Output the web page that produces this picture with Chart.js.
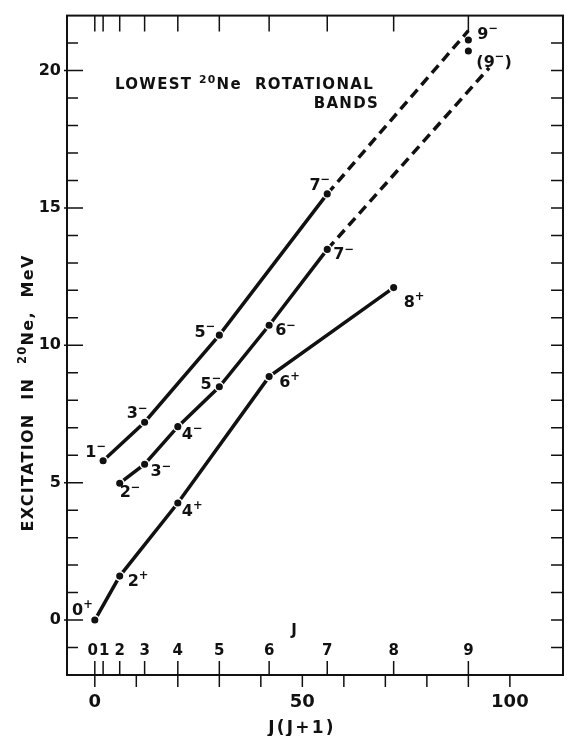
<!DOCTYPE html>
<html>
<head>
<meta charset="utf-8">
<script src="https://cdn.jsdelivr.net/npm/chart.js@4/dist/chart.umd.min.js"></script>
<style>
html, body { margin: 0; padding: 0; background: #fff; overflow: hidden; }
canvas { display: block; }
</style>
</head>
<body>
<canvas id="bands" width="569" height="736"></canvas>
<script>

// J(J+1) positions of J = 0..9 and their names
const jTicks = [0, 2, 6, 12, 20, 30, 42, 56, 72, 90];
const jNames = ["0", "1", "2", "3", "4", "5", "6", "7", "8", "9"];

// axis ticks
const xMajor = [0, 50, 100];
const xMinor = [0, 10, 20, 30, 40, 50, 60, 70, 80, 90, 100];
const yMajor = [0, 5, 10, 15, 20];
const yMinor = [-1, 0, 1, 2, 3, 4, 5, 6, 7, 8, 9, 10, 11, 12, 13, 14, 15, 16, 17, 18, 19, 20, 21];

// ground band K = 0+
const gsbX = [0, 6, 20, 42, 72];
const gsbE = [0, 1.60, 4.26, 8.86, 12.10];
const gsbSpin = ["0", "2", "4", "6", "8"];

// K = 0- band
const oddX = [2, 12, 30, 56];
const oddE = [5.80, 7.20, 10.37, 15.51];
const oddSpin = ["1", "3", "5", "7"];
const oddExtX = [56, 90];
const oddExtE = [15.51, 21.45];
const odd9X = [90];
const odd9E = [21.11];

// K = 2- band
const k2X = [6, 12, 20, 30, 42, 56];
const k2E = [4.98, 5.67, 7.04, 8.49, 10.73, 13.49];
const k2Spin = ["2", "3", "4", "5", "6", "7"];
const k2ExtX = [56, 95];
const k2ExtE = [13.49, 20.10];
const k29X = [90];
const k29E = [20.71];

// label placement next to each dot: [dx, dy, align]
const gsbLab = [[-2, -5, "right"], [8, 10, "left"], [4, 13, "left"], [10, 10, "left"], [10, 19, "left"]];
const oddLab = [[3, -4, "right"], [3, -4, "right"], [-4, 2, "right"], [3, -4, "right"]];
const odd9Lab = [[9, -1, "left"]];
const k2Lab = [[0, 14, "left"], [6, 12, "left"], [4, 12, "left"], [2, 2, "right"], [6, 10, "left"], [6, 10, "left"]];
const k29Lab = [[8, 16, "left"]];

const INK = "#111";
const FONT = '"DejaVu Sans"';

function pts(xs, ys) {
  return xs.map((x, i) => ({ x: x, y: ys[i] }));
}

function band(xs, ys, dashed, showDots) {
  return {
    data: pts(xs, ys),
    showLine: xs.length > 1,
    borderColor: INK,
    borderWidth: 3.5,
    borderDash: dashed ? [10, 6] : [],
    pointRadius: showDots ? 4.3 : 0,
    pointBackgroundColor: INK,
    pointBorderColor: "#fff",
    pointBorderWidth: 1.5
  };
}

// text with raised parts, parts = [[text, isSup], ...]
function drawParts(ctx, parts, x, y, align, size, spacing) {
  ctx.letterSpacing = (spacing || 0) + "px";
  const widths = parts.map(p => {
    ctx.font = "bold " + (p[1] ? size * 0.72 : size) + "px " + FONT;
    return ctx.measureText(p[0]).width;
  });
  const total = widths.reduce((a, b) => a + b, 0);
  let cx = align === "right" ? x - total : align === "center" ? x - total / 2 : x;
  ctx.textAlign = "left";
  ctx.textBaseline = "alphabetic";
  parts.forEach((p, i) => {
    ctx.font = "bold " + (p[1] ? size * 0.72 : size) + "px " + FONT;
    ctx.fillText(p[0], cx, p[1] ? y - size * 0.42 : y);
    cx += widths[i];
  });
  ctx.letterSpacing = "0px";
}

const frame = {
  id: "frame",
  beforeDatasetsDraw(chart) {
    const { ctx, chartArea: a, scales: { x, y } } = chart;
    ctx.save();
    ctx.strokeStyle = INK;
    ctx.lineWidth = 2;
    ctx.strokeRect(a.left, a.top, a.right - a.left, a.bottom - a.top);

    ctx.lineWidth = 1.5;
    ctx.beginPath();
    yMinor.forEach(v => {
      const py = y.getPixelForValue(v);
      const major = yMajor.includes(v);
      ctx.moveTo(major ? a.left - 3 : a.left, py);
      ctx.lineTo(a.left + (major ? 16 : 11), py);
      ctx.moveTo(a.right - 12, py);
      ctx.lineTo(a.right, py);
    });
    xMinor.forEach(v => {
      const px = x.getPixelForValue(v);
      ctx.moveTo(px, a.bottom);
      ctx.lineTo(px, a.bottom + 12);
    });
    jTicks.forEach(v => {
      const px = x.getPixelForValue(v);
      ctx.moveTo(px, a.bottom);
      ctx.lineTo(px, a.bottom - 14);
      ctx.moveTo(px, a.top);
      ctx.lineTo(px, a.top + 16);
    });
    ctx.stroke();
    ctx.restore();
  },
  afterDatasetsDraw(chart) {
    const { ctx, chartArea: a, scales: { x, y } } = chart;
    ctx.save();
    ctx.fillStyle = INK;

    // J scale along the bottom
    jTicks.forEach((v, i) => {
      const shift = i === 0 ? -2 : i === 1 ? 1 : 0;
      drawParts(ctx, [[jNames[i], false]], x.getPixelForValue(v) + shift, a.bottom - 20, "center", 15);
    });
    drawParts(ctx, [["J", false]], 294, a.bottom - 40, "center", 15);

    // level labels
    const tag = (xs, ys, spins, place, parity, paren) => {
      xs.forEach((v, i) => {
        const px = x.getPixelForValue(v);
        const py = y.getPixelForValue(ys[i]);
        const [dx, dy, al] = place[i];
        const parts = paren
          ? [["(" + spins[i], false], [parity, true], [")", false]]
          : [[spins[i], false], [parity, true]];
        drawParts(ctx, parts, px + dx, py + dy, al, 16);
      });
    };
    tag(gsbX, gsbE, gsbSpin, gsbLab, "+");
    tag(oddX, oddE, oddSpin, oddLab, "\u2212");
    tag(odd9X, odd9E, ["9"], odd9Lab, "\u2212");
    tag(k2X, k2E, k2Spin, k2Lab, "\u2212");
    tag(k29X, k29E, ["9"], k29Lab, "\u2212", true);

    // heading
    drawParts(ctx, [["LOWEST ", false], ["20", true], ["Ne  ROTATIONAL", false]], 115, 89, "left", 15, 1.3);
    drawParts(ctx, [["BANDS", false]], 379, 108, "right", 15, 1.3);

    // axis titles
    drawParts(ctx, [["J(J+1)", false]], 302, 733, "center", 17, 2.2);
    ctx.translate(33, 393);
    ctx.rotate(-Math.PI / 2);
    drawParts(ctx, [["EXCITATION  IN  ", false], ["20", true], ["Ne,  MeV", false]], 0, 0, "center", 16, 1.3);
    ctx.restore();
  }
};

new Chart(document.getElementById("bands"), {
  type: "scatter",
  data: {
    datasets: [
      band(gsbX, gsbE, false, true),
      band(oddX, oddE, false, true),
      band(oddExtX, oddExtE, true, false),
      band(odd9X, odd9E, false, true),
      band(k2X, k2E, false, true),
      band(k2ExtX, k2ExtE, true, false),
      band(k29X, k29E, false, true)
    ]
  },
  options: {
    responsive: false,
    animation: false,
    devicePixelRatio: 1,
    layout: { padding: { top: 12, right: 6, left: 0, bottom: 0 } },
    plugins: { legend: { display: false }, tooltip: { enabled: false } },
    scales: {
      x: {
        type: "linear",
        min: -6.7,
        max: 112.8,
        grid: { display: false, drawTicks: false },
        border: { display: false },
        afterBuildTicks: s => { s.ticks = xMajor.map(v => ({ value: v })); },
        afterFit: s => { s.height = 61; },
        ticks: { color: INK, padding: 17, maxRotation: 0, font: { family: FONT, size: 18, weight: "bold" } }
      },
      y: {
        type: "linear",
        min: -2,
        max: 22,
        grid: { display: false, drawTicks: false },
        border: { display: false },
        afterBuildTicks: s => { s.ticks = yMajor.map(v => ({ value: v })); },
        afterFit: s => { s.width = 67; },
        ticks: { color: INK, padding: 6, font: { family: FONT, size: 16, weight: "bold" } }
      }
    }
  },
  plugins: [frame]
});
</script>
</body>
</html>
